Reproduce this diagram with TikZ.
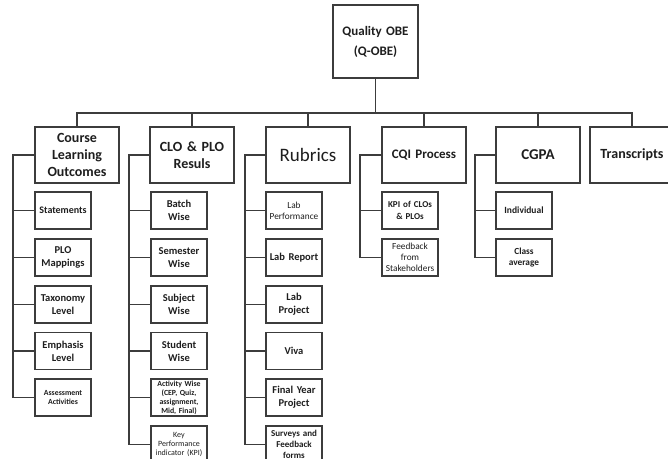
\documentclass[tikz,border=0pt]{standalone}
\usepackage{fontspec}
\setmainfont{Carlito}
\definecolor{ln}{HTML}{3C3C3C}
\definecolor{tx}{HTML}{1E1E1E}
\newcommand{\fs}[2]{\fontsize{#1}{#2}\selectfont}
\begin{document}
\begin{tikzpicture}[x=1pt,y=-1pt,
  box/.style={draw=ln,line width=1.1pt,fill=white,text=tx,align=center,inner sep=1pt},
  mainbox/.style={box,minimum width=84pt,minimum height=56pt,text width=80pt},
  subbox/.style={box,minimum width=56pt,minimum height=37pt,text width=54pt},
  conn/.style={draw=ln,line width=1.1pt}]
\useasboundingbox (0,0) rectangle (668,458);
\clip (0,0) rectangle (668,458);
% top
\node[box,minimum width=85pt,minimum height=73pt,text width=80pt,font=\bfseries\fs{13}{20}] (top) at (375.5,41.5) {Quality OBE\\(Q-OBE)};
% main boxes
\node[mainbox,font=\bfseries\fs{14}{17}] (clo) at (77,155) {Course\\Learning\\Outcomes};
\node[mainbox,font=\bfseries\fs{14}{17}] (res) at (192,155) {CLO \& PLO\\Resuls};
\node[mainbox,font=\fs{19}{22}] (rub) at (308,155) {Rubrics};
\node[mainbox,font=\bfseries\fs{13}{16}] (cqi) at (424,155) {CQI Process};
\node[mainbox,font=\bfseries\fs{15}{18}] (cgpa) at (538,155) {CGPA};
\node[mainbox,font=\bfseries\fs{14}{17}] (tr) at (632,155) {Transcripts};
% bus
\coordinate (bus) at (375.5,113);
\draw[conn] (top.south) -- (bus);
\draw[conn] (clo.north) -- (clo.north |- bus) -- (tr.north |- bus) -- (tr.north);
\foreach \n in {res,rub,cqi,cgpa} \draw[conn] (\n.north) -- (\n.north |- bus);
% CLO children
\node[subbox,font=\bfseries\fs{10}{12}] (c1) at (63,210.5) {Statements};
\node[subbox,font=\bfseries\fs{10.5}{13}] (c2) at (63,257.5) {PLO\\Mappings};
\node[subbox,font=\bfseries\fs{10.5}{13}] (c3) at (63,304.5) {Taxonomy\\Level};
\node[subbox,font=\bfseries\fs{10.5}{13}] (c4) at (63,351) {Emphasis\\Level};
\node[subbox,font=\bfseries\fs{7.8}{9.5}] (c5) at (63,397.5) {Assessment\\Activities};
\coordinate (ct) at (13,155);
\draw[conn] (clo.west) -- (ct) -- (ct |- c5.west) -- (c5.west);
\foreach \n in {c1,c2,c3,c4} \draw[conn] (\n.west) -- (\n.west -| ct);
% CLO & PLO results children
\node[subbox,font=\bfseries\fs{10.5}{13}] (r1) at (179,210.5) {Batch\\Wise};
\node[subbox,font=\bfseries\fs{10.5}{13}] (r2) at (179,257.5) {Semester\\Wise};
\node[subbox,font=\bfseries\fs{10.5}{13}] (r3) at (179,304.5) {Subject\\Wise};
\node[subbox,font=\bfseries\fs{10.5}{13}] (r4) at (179,351) {Student\\Wise};
\node[subbox,font=\bfseries\fs{7.8}{9}] (r5) at (179,397.5) {Activity Wise\\(CEP, Quiz,\\assignment,\\Mid, Final)};
\node[subbox,font=\fs{8}{9}] (r6) at (179,444.5) {Key\\Performance\\indicator (KPI)};
\coordinate (rt) at (129,155);
\draw[conn] (res.west) -- (rt) -- (rt |- r6.west) -- (r6.west);
\foreach \n in {r1,r2,r3,r4,r5} \draw[conn] (\n.west) -- (\n.west -| rt);
% Rubrics children
\node[subbox,font=\fs{9.3}{11}] (u1) at (294,210.5) {Lab\\Performance};
\node[subbox,font=\bfseries\fs{10.5}{13}] (u2) at (294,257.5) {Lab Report};
\node[subbox,font=\bfseries\fs{10.5}{13}] (u3) at (294,304.5) {Lab\\Project};
\node[subbox,font=\bfseries\fs{10.5}{13}] (u4) at (294,351) {Viva};
\node[subbox,font=\bfseries\fs{10.5}{13}] (u5) at (294,397.5) {Final Year\\Project};
\node[subbox,font=\bfseries\fs{9}{11}] (u6) at (294,444.5) {Surveys and\\Feedback\\forms};
\coordinate (ut) at (245,155);
\draw[conn] (rub.west) -- (ut) -- (ut |- u6.west) -- (u6.west);
\foreach \n in {u1,u2,u3,u4,u5} \draw[conn] (\n.west) -- (\n.west -| ut);
% CQI children
\node[subbox,font=\bfseries\fs{9}{12}] (q1) at (410,210.5) {KPI of CLOs\\\& PLOs};
\node[subbox,font=\fs{9.3}{11}] (q2) at (410,257.5) {Feedback\\from\\Stakeholders};
\coordinate (qt) at (360,155);
\draw[conn] (cqi.west) -- (qt) -- (qt |- q2.west) -- (q2.west);
\draw[conn] (q1.west) -- (q1.west -| qt);
% CGPA children
\node[subbox,font=\bfseries\fs{9.5}{11}] (g1) at (524,210.5) {Individual};
\node[subbox,font=\bfseries\fs{9.3}{11}] (g2) at (524,257.5) {Class\\average};
\coordinate (gt) at (475,155);
\draw[conn] (cgpa.west) -- (gt) -- (gt |- g2.west) -- (g2.west);
\draw[conn] (g1.west) -- (g1.west -| gt);
\end{tikzpicture}
\end{document}
